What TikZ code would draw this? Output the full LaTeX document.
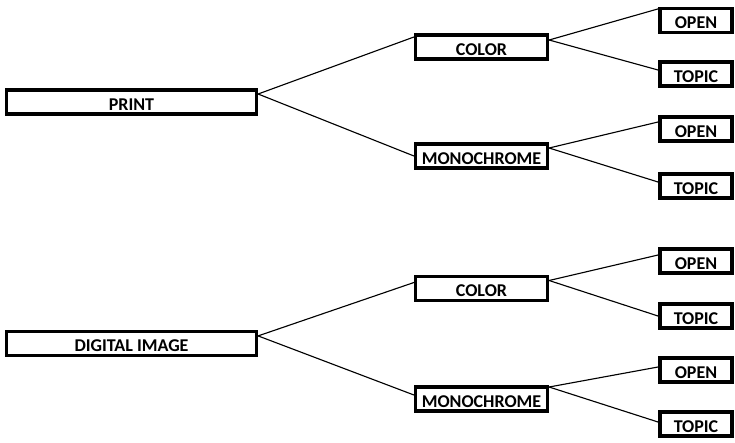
\documentclass[tikz,border=0pt]{standalone}
\usepackage{fontspec}
\setmainfont{Carlito}
\begin{document}
\begin{tikzpicture}
  [x=0.025cm, y=-0.025cm,
   lineN/.style={line width=0.8pt},
   boxN/.style={draw,line width=2.5pt,minimum height=0.61cm,inner sep=0pt,
     font=\fontsize{12.8}{15}\selectfont\bfseries,text height=12pt,text depth=0pt},
   rootN/.style={boxN,minimum width=6.24cm},
   midN/.style={boxN,minimum width=3.29cm},
   leafN/.style={boxN,minimum width=1.81cm},
  ]
 \useasboundingbox (0,0) rectangle (735,442);

 % print branch
 \node[rootN] (print) at (131.5,102) {PRINT};
 \node[midN] (colorP) at (481.5,47) {COLOR};
 \node[midN] (monoP) at (481.5,156) {MONOCHROME};
 \node[leafN] (openPC) at (696,20.5) {OPEN};
 \node[leafN] (topicPC) at (696,74) {TOPIC};
 \node[leafN] (openPM) at (696,129) {OPEN};
 \node[leafN] (topicPM) at (696,186) {TOPIC};

 % digital branch
 \node[rootN] (digital) at (131.5,343.5) {DIGITAL IMAGE};
 \node[midN] (colorD) at (481.5,288.5) {COLOR};
 \node[midN] (monoD) at (481.5,399) {MONOCHROME};
 \node[leafN] (openDC) at (696,261) {OPEN};
 \node[leafN] (topicDC) at (696,316) {TOPIC};
 \node[leafN] (openDM) at (696,370) {OPEN};
 \node[leafN] (topicDM) at (696,424) {TOPIC};

 \draw[lineN] ([yshift=0.2cm]print.east) -- ([yshift=0.25cm]colorP.west);
 \draw[lineN] ([yshift=0.2cm]print.east) -- (monoP.west);
 \draw[lineN] ([yshift=0.175cm]colorP.east) -- ([yshift=0.29cm]openPC.west);
 \draw[lineN] ([yshift=0.175cm]colorP.east) -- ([yshift=0.1cm]topicPC.west);
 \draw[lineN] ([yshift=0.2cm]monoP.east) -- ([yshift=0.175cm]openPM.west);
 \draw[lineN] ([yshift=0.2cm]monoP.east) -- ([yshift=0.1cm]topicPM.west);

 \draw[lineN] ([yshift=0.19cm]digital.east) -- ([yshift=0.15cm]colorD.west);
 \draw[lineN] ([yshift=0.19cm]digital.east) -- ([yshift=0.1cm]monoD.west);
 \draw[lineN] ([yshift=0.2cm]colorD.east) -- ([yshift=0.15cm]openDC.west);
 \draw[lineN] ([yshift=0.2cm]colorD.east) -- (topicDC.west);
 \draw[lineN] ([yshift=0.3cm]monoD.east) -- ([yshift=0.075cm]openDM.west);
 \draw[lineN] ([yshift=0.3cm]monoD.east) -- ([yshift=0.05cm]topicDM.west);
\end{tikzpicture}
\end{document}
